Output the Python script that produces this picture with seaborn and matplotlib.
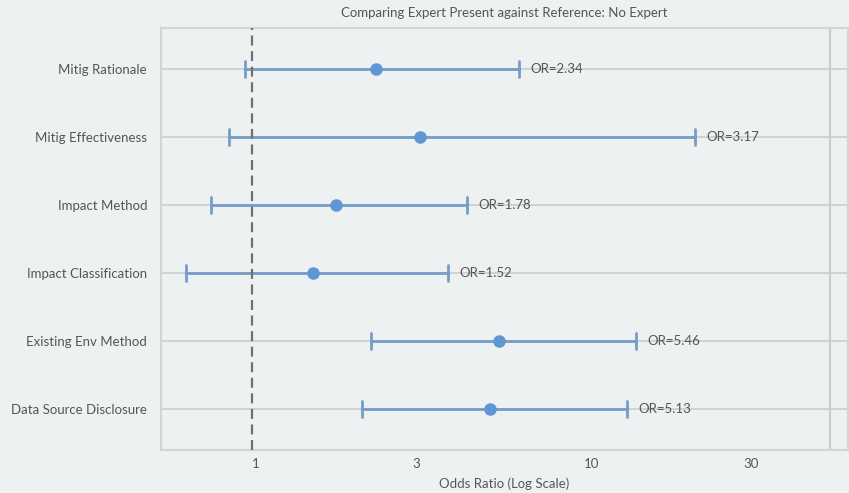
import numpy as np
import pandas as pd
import matplotlib
matplotlib.use("Agg")
import matplotlib.pyplot as plt
import matplotlib.transforms as mtransforms
import seaborn as sns

# Odds ratios with 95% confidence bounds for each disclosure item
categories = [
    "Mitig Rationale",
    "Mitig Effectiveness",
    "Impact Method",
    "Impact Classification",
    "Existing Env Method",
    "Data Source Disclosure",
]
odds_ratio = [2.34, 3.17, 1.78, 1.52, 5.46, 5.13]
ci_lower = [0.953, 0.854, 0.754, 0.635, 2.27, 2.13]
ci_upper = [6.27, 21.0, 4.38, 3.85, 14.0, 13.2]
x_ticks = [1, 3, 10, 30]
x_tick_labels = ["1", "3", "10", "30"]

title = "Comparing Expert Present against Reference: No Expert"
x_label = "Odds Ratio (Log Scale)"

# long form: lower bound, estimate and upper bound per item
rows = []
for cat, lo, est, hi in zip(categories, ci_lower, odds_ratio, ci_upper):
    for v in (lo, est, hi):
        rows.append({"item": cat, "value": v})
df = pd.DataFrame(rows)

BG = "#eef1f2"
GRID = "#cbcdce"
LINE_BLUE = "#759dc7"
DOT_BLUE = "#5e97d3"
TEXT = "#555555"

sns.set_theme(style="white")
plt.rcParams["font.family"] = ["Lato", "DejaVu Sans"]

fig = plt.figure(figsize=(8.49, 4.93), dpi=100, facecolor=BG)
ax = fig.add_axes([161 / 849, 1 - 450 / 493, 687 / 849, 422 / 493])
ax.set_facecolor(BG)
ax.set_xscale("log")

# reference rows behind the intervals
for i in range(len(categories)):
    ax.axhline(i, color=GRID, linewidth=1.2, zorder=0)
ax.axvline(53.1, color=GRID, linewidth=1.6, zorder=0)

sns.pointplot(
    data=df,
    x="value",
    y="item",
    order=categories,
    orient="h",
    estimator=np.median,
    errorbar=lambda v: (v.min(), v.max()),
    linestyle="none",
    color=LINE_BLUE,
    capsize=0.24,
    err_kws={"linewidth": 2.0},
    markers="o",
    markersize=7,
    ax=ax,
    zorder=3,
)
for ln in ax.lines:
    if ln.get_marker() == "o":
        ln.set_markerfacecolor(DOT_BLUE)
        ln.set_markeredgecolor(DOT_BLUE)
        ln.set_zorder(5)

# null effect reference at OR = 1
ax.axvline(1, color="#707070", linewidth=1.6, linestyle=(0, (4.5, 2.5)), zorder=4)

for i, (est, hi) in enumerate(zip(odds_ratio, ci_upper)):
    ax.annotate(
        f"OR={est:.2f}",
        xy=(hi, i),
        xytext=(8, 0),
        textcoords="offset points",
        va="center",
        ha="left",
        fontsize=9.5,
        color=TEXT,
        zorder=6,
    )

ax.set_xlim(0.535, 60.1)
ax.set_ylim(len(categories) - 0.4, -0.6)
ax.set_xticks(x_ticks)
ax.set_xticklabels(x_tick_labels)
ax.minorticks_off()
ax.tick_params(axis="both", length=0, labelsize=9.5, labelcolor=TEXT)
ax.tick_params(axis="y", pad=10)
ax.tick_params(axis="x", pad=6)
shift = mtransforms.ScaledTranslation(4 / 100, 0, fig.dpi_scale_trans)
for lbl in ax.get_xticklabels():
    lbl.set_transform(lbl.get_transform() + shift)
ax.set_xlabel(x_label, fontsize=9.5, color=TEXT, labelpad=5)
ax.set_ylabel("")
ax.set_title(title, fontsize=9.5, color=TEXT, pad=8)

for side in ["left", "right", "top", "bottom"]:
    ax.spines[side].set_color("#d2d5d6")
    ax.spines[side].set_linewidth(1.5)

fig.savefig("out.png", dpi=100, facecolor=BG)
